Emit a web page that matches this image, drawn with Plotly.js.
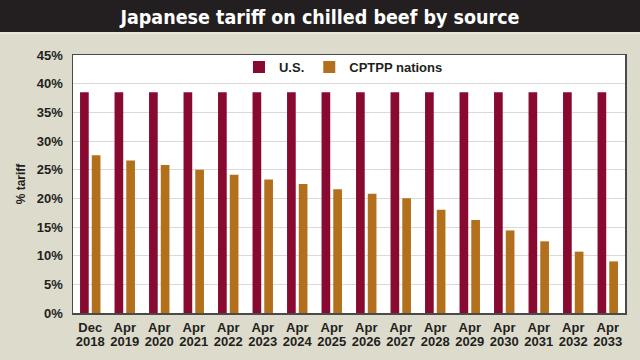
<!DOCTYPE html>
<html><head><meta charset="utf-8">
<script src="https://cdn.plot.ly/plotly-3.0.1.min.js"></script>
<style>html,body{margin:0;padding:0;background:#dddbcc}</style>
</head><body><div id="chart" style="width:640px;height:360px"></div>
<script>
const categories = ['Dec 2018','Apr 2019','Apr 2020','Apr 2021','Apr 2022','Apr 2023','Apr 2024','Apr 2025','Apr 2026','Apr 2027','Apr 2028','Apr 2029','Apr 2030','Apr 2031','Apr 2032','Apr 2033'];
const months = ['Dec','Apr','Apr','Apr','Apr','Apr','Apr','Apr','Apr','Apr','Apr','Apr','Apr','Apr','Apr','Apr'];
const years = ['2018','2019','2020','2021','2022','2023','2024','2025','2026','2027','2028','2029','2030','2031','2032','2033'];
const usTariff = [38.5,38.5,38.5,38.5,38.5,38.5,38.5,38.5,38.5,38.5,38.5,38.5,38.5,38.5,38.5,38.5];
const cptppTariff = [27.5,26.6,25.8,25.0,24.1,23.3,22.5,21.6,20.8,20.0,18.0,16.2,14.4,12.5,10.7,9.0];
const yTickVals = [0,5,10,15,20,25,30,35,40,45];
const yTickText = ['0%','5%','10%','15%','20%','25%','30%','35%','40%','45%'];

const tickFont = {family:'Liberation Sans, Arial, sans-serif', size:13, color:'#231f20', weight:'bold'};

const traces = [
  {type:'bar', name:'U.S.', x:categories, y:usTariff, marker:{color:'#880a30'}, hoverinfo:'skip'},
  {type:'bar', name:'CPTPP nations', x:categories, y:cptppTariff, marker:{color:'#b26f1c'}, hoverinfo:'skip'},
  {type:'scatter', mode:'none', x:categories, y:cptppTariff, xaxis:'x2', showlegend:false, hoverinfo:'skip'}
];

const layout = {
  width:640, height:360,
  margin:{l:73, r:15, t:55, b:47},
  paper_bgcolor:'#dddbcc', plot_bgcolor:'#ffffff',
  barmode:'group', bargap:0.32, bargroupgap:0.26,
  showlegend:true,
  legend:{orientation:'h', x:0.49, xanchor:'center', y:0.953, yanchor:'middle', bgcolor:'rgba(0,0,0,0)',
    font:{family:'Liberation Sans, Arial, sans-serif', size:13, color:'#231f20', weight:'bold'}, itemwidth:30},
  title:{text:'Japanese tariff on chilled beef by source', x:0.5, xref:'container', xanchor:'center', y:0.952, yref:'container', yanchor:'middle',
    font:{family:'DejaVu Sans Condensed, Liberation Sans, sans-serif', size:19.5, color:'#ffffff', weight:'bold'}},
  xaxis:{type:'category', range:[-0.5,15.5], tickmode:'array', tickvals:categories, ticktext:months, ticks:'', tickangle:0,
    tickfont:tickFont, ticklabelstandoff:2, showline:true, linecolor:'#4a4a4a', linewidth:1.5, mirror:true, showgrid:false, zeroline:false, fixedrange:true},
  xaxis2:{type:'category', overlaying:'x', anchor:'y', side:'bottom', range:[-0.5,15.5], tickmode:'array', tickvals:categories, ticktext:years, ticks:'', tickangle:0,
    tickfont:tickFont, ticklabelstandoff:19, showline:false, showgrid:false, zeroline:false, fixedrange:true},
  yaxis:{range:[0,45], tickmode:'array', tickvals:yTickVals, ticktext:yTickText, ticks:'', ticklabelstandoff:6,
    tickfont:{family:'Liberation Sans, Arial, sans-serif', size:13, color:'#231f20', weight:'bold'},
    showgrid:true, gridcolor:'#d9d9d9', gridwidth:1, showline:true, linecolor:'#4a4a4a', linewidth:1.5, mirror:true, zeroline:false, fixedrange:true,
    title:{text:'% tariff', standoff:8, font:{family:'Liberation Sans, Arial, sans-serif', size:12, color:'#231f20', weight:'bold'}}},
  shapes:[
    {type:'rect', xref:'paper', yref:'paper', x0:-0.2, x1:1.2, y0:1.089, y1:1.3, fillcolor:'#231f20', line:{width:0}, layer:'below'},
    {type:'rect', xref:'paper', yref:'paper', x0:-0.2, x1:1.2, y0:1.081, y1:1.089, fillcolor:'#e8e6da', line:{width:0}, layer:'below'}
  ]
};
Plotly.newPlot('chart', traces, layout, {displayModeBar:false, staticPlot:true});
</script></body></html>
